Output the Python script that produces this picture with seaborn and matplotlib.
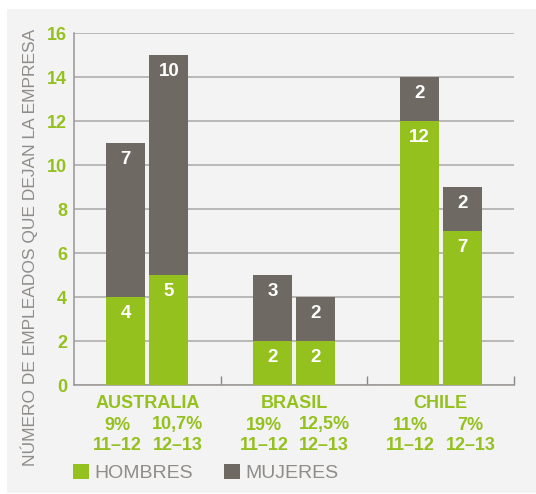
import numpy as np
import pandas as pd
import matplotlib
matplotlib.use("Agg")
import matplotlib.pyplot as plt
from matplotlib.patches import Rectangle, Patch
import seaborn as sns

# ---- data ----
countries = ["AUSTRALIA", "BRASIL", "CHILE"]
periods = ["11–12", "12–13"]
hombres = [4, 5, 2, 2, 12, 7]          # order: country x period
mujeres = [7, 10, 3, 2, 2, 2]
rates = ["9%", "10,7%", "19%", "12,5%", "11%", "7%"]
yticks = [0, 2, 4, 6, 8, 10, 12, 14, 16]
ylabel = "NÚMERO DE EMPLEADOS QUE DEJAN LA EMPRESA"
legend_labels = ["HOMBRES", "MUJERES"]

GREEN = "#95c11f"
DARK = "#6e6962"
BG = "#f3f3f3"
GRID = "#aaa8a5"
LABEL_GRAY = "#8f8c89"

sns.set_theme(style="white")
plt.rcParams["font.family"] = ["Liberation Sans", "DejaVu Sans"]

df = pd.DataFrame({
    "pais": np.repeat(countries, len(periods)),
    "periodo": periods * len(countries),
    "hombres": hombres,
    "mujeres": mujeres,
})
df["total"] = df["hombres"] + df["mujeres"]

W, H = 536, 494
fig = plt.figure(figsize=(W / 100, H / 100), dpi=100)
fig.patch.set_facecolor("white")
fig.patches.append(Rectangle((7 / W, 1 / H), 1, 484 / H, transform=fig.transFigure,
                             facecolor=BG, edgecolor="none", zorder=-10))

ax = fig.add_axes([74 / W, (H - 385) / H, (514 - 74) / W, 352 / H])
ax.set_facecolor(BG)

common = dict(data=df, x="pais", hue="periodo", width=0.588, gap=0.095,
              saturation=1, linewidth=0, errorbar=None, legend=False, ax=ax,
              order=countries, hue_order=periods)
sns.barplot(y="total", palette=[DARK, DARK], zorder=3, **common)
sns.barplot(y="hombres", palette=[GREEN, GREEN], zorder=4, **common)

# value labels inside segments
off = -16 * 0.72
for k, per in enumerate(periods):
    tot_bars = ax.containers[k]
    for i, c in enumerate(countries):
        row = df[(df.pais == c) & (df.periodo == per)].iloc[0]
        pt = tot_bars.patches[i]
        xc = pt.get_x() + pt.get_width() / 2
        ax.annotate(str(row.mujeres), xy=(xc, row.total), xytext=(0, off),
                    textcoords="offset points", ha="center", va="center",
                    color="white", fontsize=13.5, fontweight="bold", zorder=6)
        ax.annotate(str(row.hombres), xy=(xc, row.hombres), xytext=(0, off),
                    textcoords="offset points", ha="center", va="center",
                    color="white", fontsize=13.5, fontweight="bold", zorder=6)

ax.set_xlim(-0.5, 2.5)
ax.set_ylim(0, 16)
ax.set_yticks(yticks)
ax.set_yticklabels([str(t) for t in yticks])
ax.tick_params(axis="y", length=0, pad=5, labelsize=13, labelcolor=GREEN)
for lb in ax.get_yticklabels():
    lb.set_fontweight("bold")
ax.yaxis.grid(True, color=GRID, linewidth=1.1, zorder=0)
ax.set_axisbelow(True)

ax.set_xticks([0.5, 1.5, 2.5])
ax.set_xticklabels([])
ax.tick_params(axis="x", direction="in", length=6.5, width=1, color="#8a8785", bottom=True)
ax.set_xlabel("")
ax.set_ylabel("")

for s in ["top", "right"]:
    ax.spines[s].set_visible(False)
for s in ["left", "bottom"]:
    ax.spines[s].set_color("#9a9794")
    ax.spines[s].set_linewidth(1.1)

# category labels
for i, c in enumerate(countries):
    ax.annotate(c, xy=(i, 0), xycoords=("data", "axes fraction"), xytext=(0, -18 * 0.72),
                textcoords="offset points", ha="center", va="center",
                color=GREEN, fontsize=13, fontweight="bold")
    for k, per in enumerate(periods):
        xo = i + (-0.205 if k == 0 else 0.205)
        ax.annotate(rates[i * 2 + k], xy=(xo, 0), xycoords=("data", "axes fraction"),
                    xytext=(0, -40 * 0.72), textcoords="offset points", ha="center",
                    va="center", color=GREEN, fontsize=13, fontweight="bold")
        ax.annotate(per, xy=(xo, 0), xycoords=("data", "axes fraction"),
                    xytext=(0, -60 * 0.72), textcoords="offset points", ha="center",
                    va="center", color=GREEN, fontsize=13, fontweight="bold")

fig.text(29 / W, (H - 247) / H, ylabel, rotation=90, ha="center", va="center",
         fontsize=12.5, color=LABEL_GRAY)

handles = [Patch(facecolor=GREEN, edgecolor="none"), Patch(facecolor=DARK, edgecolor="none")]
fig.legend(handles, legend_labels, loc="center left", bbox_to_anchor=(73 / W, (H - 473) / H),
           ncol=2, frameon=False, fontsize=14, handlelength=0.82, handleheight=0.82,
           handletextpad=0.27, columnspacing=1.6, borderpad=0, borderaxespad=0,
           labelcolor=LABEL_GRAY)

fig.savefig("out.png", dpi=100, facecolor="white")
